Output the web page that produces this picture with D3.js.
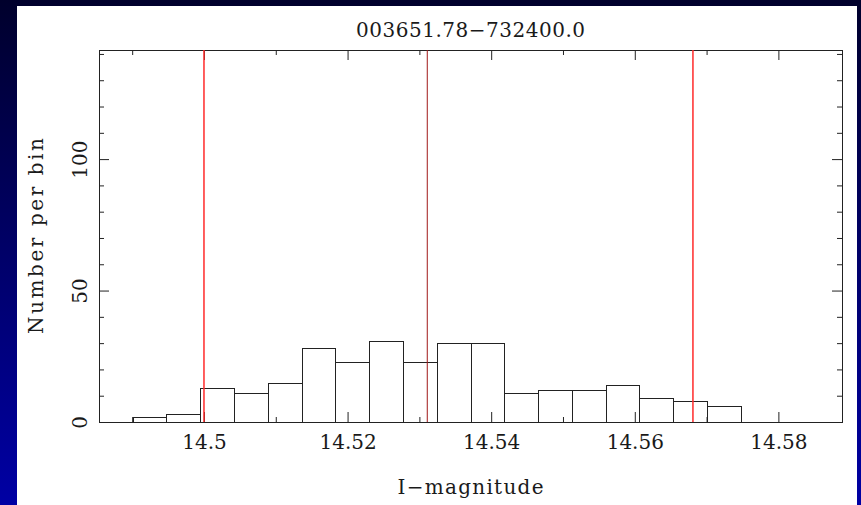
<!DOCTYPE html>
<html>
<head>
<meta charset="utf-8">
<script src="https://cdn.jsdelivr.net/npm/d3@7"></script>
<style>
  html, body { margin: 0; padding: 0; background: #000040; }
  svg { display: block; }
  svg text { font-family: "DejaVu Serif", "Liberation Serif", serif; fill: #1a1a1a; }
</style>
</head>
<body>
<script>
// ---------- data ----------
const titleText = "003651.78\u2212732400.0";
const xLabelText = "I\u2212magnitude";
const yLabelText = "Number per bin";

const xDomain = [14.48538, 14.58886];
const yDomain = [0, 141.5];

// histogram bin edges (lower edges + final upper edge)
const binEdges = [14.49007, 14.49478, 14.49948, 14.50419, 14.50889, 14.51360,
                  14.51830, 14.52301, 14.52771, 14.53242, 14.53712, 14.54183,
                  14.54653, 14.55124, 14.55594, 14.56065, 14.56535, 14.57006,
                  14.57476];
const counts = [2, 3, 13, 11, 15, 28, 23, 31, 23, 30, 30, 11, 12, 12, 14, 9, 8, 6];

// vertical marker lines: lower limit, mean, upper limit
const markerValues = [14.5000, 14.5311, 14.5681];
const markerKinds  = ["limit", "mean", "limit"];

const xMajorTicks = [14.50, 14.52, 14.54, 14.56, 14.58];
const xTickLabels = ["14.5", "14.52", "14.54", "14.56", "14.58"];
const xMinorTicks = [14.49, 14.51, 14.53, 14.55, 14.57];
const yMajorTicks = [0, 50, 100];
const yTickLabels = ["0", "50", "100"];
const yMinorTicks = [10, 20, 30, 40, 60, 70, 80, 90, 110, 120, 130, 140];

// ---------- layout ----------
const W = 861, H = 505;
const plot = { left: 99, right: 842, top: 50, bottom: 422 };
const FONT = 20;

const svg = d3.select("body").append("svg")
  .attr("width", W).attr("height", H);

const defs = svg.append("defs");
const grad = defs.append("linearGradient").attr("id", "bg")
  .attr("x1", 0).attr("y1", 0).attr("x2", 0).attr("y2", 1);
grad.append("stop").attr("offset", "0%").attr("stop-color", "#00002c");
grad.append("stop").attr("offset", "100%").attr("stop-color", "#0000a4");

svg.append("rect").attr("width", W).attr("height", H).attr("fill", "url(#bg)");
svg.append("rect").attr("x", 17).attr("y", 6).attr("width", 840).attr("height", H - 6)
  .attr("fill", "#ffffff");

const x = d3.scaleLinear().domain(xDomain).range([plot.left, plot.right]);
const y = d3.scaleLinear().domain(yDomain).range([plot.bottom, plot.top]);

const ink = "#222";

// ---------- histogram bars ----------
const bins = counts.map((c, i) => ({ x0: binEdges[i], x1: binEdges[i + 1], n: c }));
svg.append("g").selectAll("rect").data(bins).join("rect")
  .attr("x", d => Math.round(x(d.x0)) + 0.5)
  .attr("y", d => Math.round(y(d.n)) + 0.5)
  .attr("width", d => Math.round(x(d.x1)) - Math.round(x(d.x0)))
  .attr("height", d => Math.round(y(0)) - Math.round(y(d.n)))
  .attr("fill", "none")
  .attr("stroke", ink)
  .attr("stroke-width", 1);

// ---------- axes (ticks pointing inward) ----------
function styleAxis(g) {
  g.attr("font-family", null).attr("font-size", null);
  g.select(".domain").remove();
  g.selectAll(".tick line").attr("stroke", ink).attr("stroke-width", 1);
}

// bottom
svg.append("g").attr("transform", `translate(0,${plot.bottom})`)
  .call(d3.axisBottom(x).tickValues(xMajorTicks).tickFormat((d, i) => xTickLabels[i])
        .tickSizeInner(-10).tickSizeOuter(0))
  .call(styleAxis)
  .call(g => g.selectAll("text")
        .attr("y", 27).attr("dy", 0)
        .attr("font-size", FONT)
        .attr("fill", "#1a1a1a"));
svg.append("g").attr("transform", `translate(0,${plot.bottom})`)
  .call(d3.axisBottom(x).tickValues(xMinorTicks).tickFormat("").tickSizeInner(-5).tickSizeOuter(0))
  .call(styleAxis);

// top
svg.append("g").attr("transform", `translate(0,${plot.top})`)
  .call(d3.axisTop(x).tickValues(xMajorTicks).tickFormat("").tickSizeInner(-10).tickSizeOuter(0))
  .call(styleAxis);
svg.append("g").attr("transform", `translate(0,${plot.top})`)
  .call(d3.axisTop(x).tickValues(xMinorTicks).tickFormat("").tickSizeInner(-5).tickSizeOuter(0))
  .call(styleAxis);

// left
svg.append("g").attr("transform", `translate(${plot.left},0)`)
  .call(d3.axisLeft(y).tickValues(yMajorTicks).tickFormat((d, i) => yTickLabels[i])
        .tickSizeInner(-10).tickSizeOuter(0))
  .call(styleAxis)
  .call(g => g.selectAll("text")
        .attr("transform", "rotate(-90)")
        .attr("x", 0).attr("y", -12).attr("dy", 0)
        .attr("text-anchor", "middle")
        .attr("font-size", FONT)
        .attr("fill", "#1a1a1a"));
svg.append("g").attr("transform", `translate(${plot.left},0)`)
  .call(d3.axisLeft(y).tickValues(yMinorTicks).tickFormat("").tickSizeInner(-5).tickSizeOuter(0))
  .call(styleAxis);

// right
svg.append("g").attr("transform", `translate(${plot.right},0)`)
  .call(d3.axisRight(y).tickValues(yMajorTicks).tickFormat("").tickSizeInner(-10).tickSizeOuter(0))
  .call(styleAxis);
svg.append("g").attr("transform", `translate(${plot.right},0)`)
  .call(d3.axisRight(y).tickValues(yMinorTicks).tickFormat("").tickSizeInner(-5).tickSizeOuter(0))
  .call(styleAxis);

// frame
svg.append("rect")
  .attr("x", plot.left + 0.5).attr("y", plot.top + 0.5)
  .attr("width", plot.right - plot.left).attr("height", plot.bottom - plot.top)
  .attr("fill", "none").attr("stroke", ink).attr("stroke-width", 1);

// ---------- marker lines (drawn over ticks) ----------
svg.append("g").selectAll("line").data(markerValues).join("line")
  .attr("x1", d => x(d)).attr("x2", d => x(d))
  .attr("y1", y(yDomain[0])).attr("y2", y(yDomain[1]))
  .attr("stroke", (d, i) => markerKinds[i] === "mean" ? "#a01818" : "#ff2a2a")
  .attr("stroke-width", (d, i) => markerKinds[i] === "mean" ? 1 : 1.5);

// ---------- titles ----------
const cx = (plot.left + plot.right) / 2;
svg.append("text").attr("x", cx).attr("y", 37)
  .attr("text-anchor", "middle").attr("font-size", FONT)
  .attr("textLength", 229).attr("lengthAdjust", "spacing")
  .text(titleText);

svg.append("text").attr("x", cx).attr("y", 494)
  .attr("text-anchor", "middle").attr("font-size", FONT)
  .attr("textLength", 146).attr("lengthAdjust", "spacing")
  .text(xLabelText);

svg.append("text")
  .attr("transform", `translate(43,${(plot.top + plot.bottom) / 2}) rotate(-90)`)
  .attr("text-anchor", "middle").attr("font-size", FONT)
  .attr("textLength", 196).attr("lengthAdjust", "spacing")
  .text(yLabelText);
</script>
</body>
</html>
